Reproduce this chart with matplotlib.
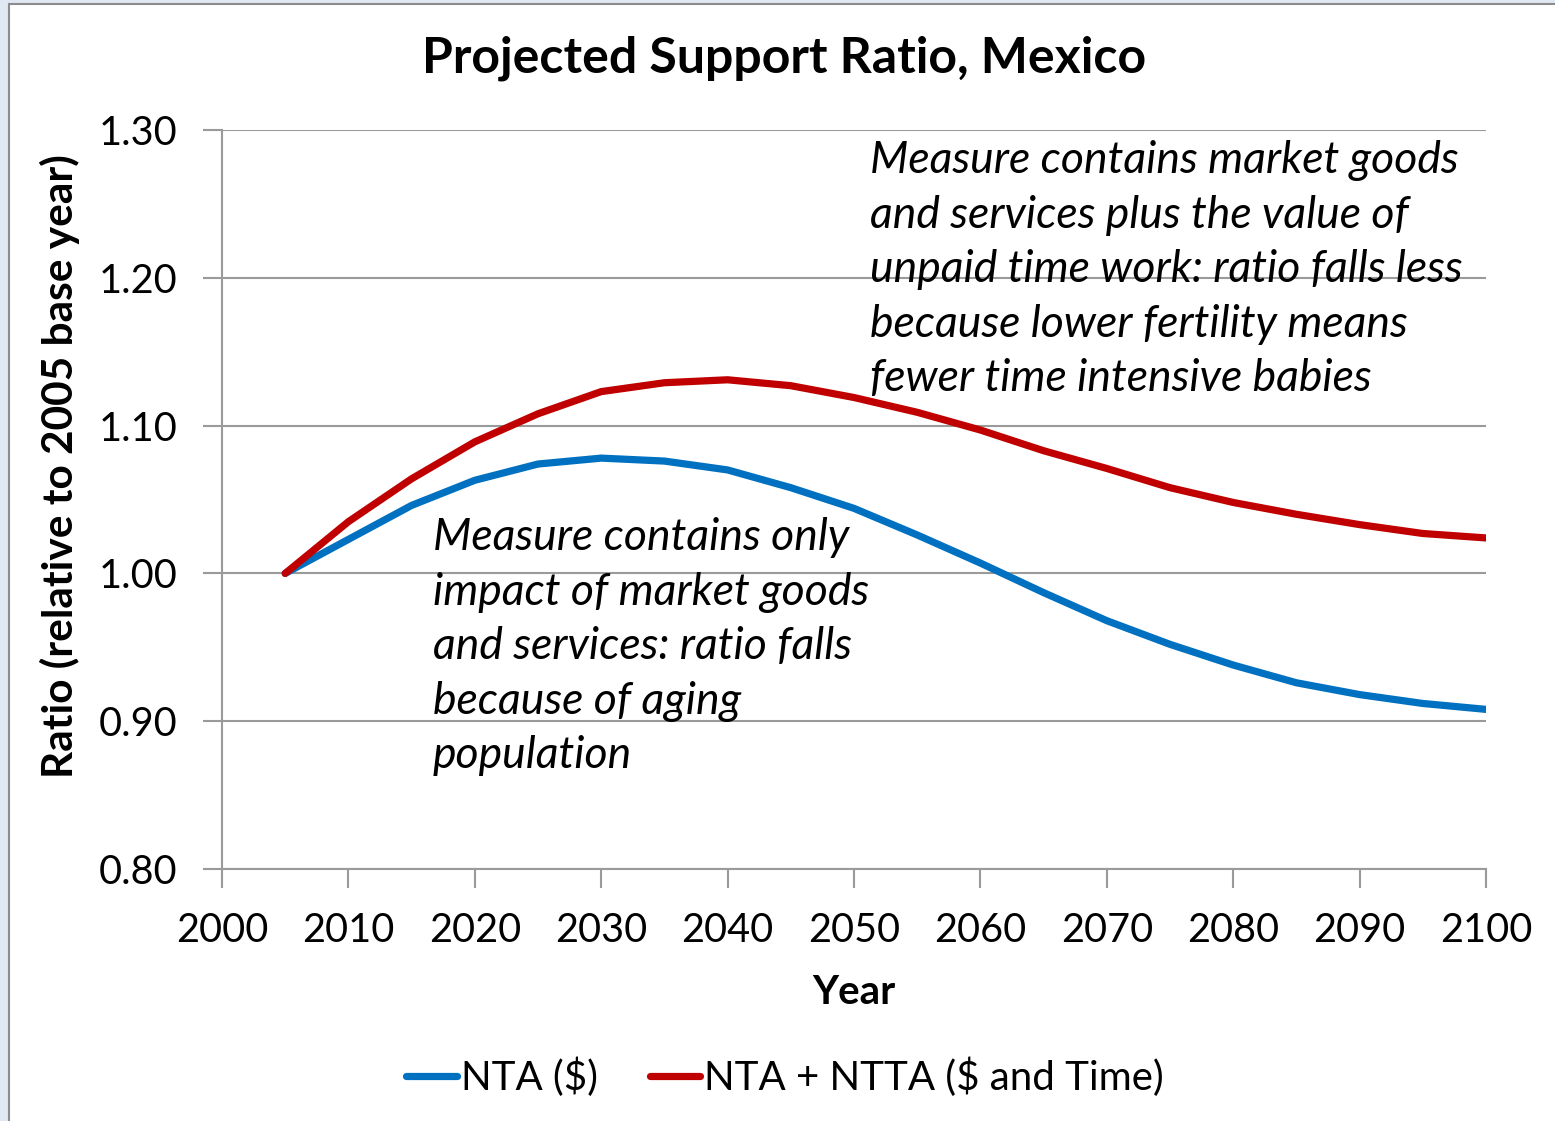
import matplotlib
matplotlib.use("Agg")
import matplotlib.pyplot as plt
from matplotlib.patches import Rectangle

years = [2005, 2010, 2015, 2020, 2025, 2030, 2035, 2040, 2045, 2050,
         2055, 2060, 2065, 2070, 2075, 2080, 2085, 2090, 2095, 2100]
nta = [1.000, 1.023, 1.046, 1.063, 1.074, 1.078, 1.076, 1.070, 1.058, 1.044,
       1.026, 1.007, 0.987, 0.968, 0.952, 0.938, 0.926, 0.918, 0.912, 0.908]
ntta = [1.000, 1.035, 1.064, 1.089, 1.108, 1.123, 1.129, 1.131, 1.127, 1.119,
        1.109, 1.097, 1.083, 1.071, 1.058, 1.048, 1.040, 1.033, 1.027, 1.024]
series_names = ["NTA ($)", "NTA + NTTA ($ and Time)"]
xticks = list(range(2000, 2101, 10))
yticks = [0.80, 0.90, 1.00, 1.10, 1.20, 1.30]

FONT = ["Lato", "DejaVu Sans"]
plt.rcParams["font.family"] = FONT

W, H = 1555, 1121
fig = plt.figure(figsize=(W / 100, H / 100), dpi=100)
fig.patch.set_facecolor("#dfe8f3")
frame = Rectangle((9 / W, -0.01), 1, 1.01 - 4 / H, transform=fig.transFigure,
                  facecolor="white", edgecolor="#8c8c8c", linewidth=1.5, zorder=-10)
fig.add_artist(frame)

ax = fig.add_axes([222 / W, 1 - 869 / H, (1486 - 222) / W, (869 - 130) / H])
ax.set_zorder(1)
ax.set_facecolor("none")
ax.plot(years, nta, color="#0070c0", linewidth=5.2, solid_capstyle="round",
        solid_joinstyle="round", label=series_names[0], zorder=3)
ax.plot(years, ntta, color="#c00000", linewidth=5.2, solid_capstyle="round",
        solid_joinstyle="round", label=series_names[1], zorder=3)

ax.set_xlim(2000, 2100)
ax.set_ylim(0.80, 1.30)
ax.set_xticks(xticks)
ax.set_yticks(yticks)
ax.set_yticklabels([f"{v:.2f}" for v in yticks])
ax.grid(axis="y", color="#9a9a9a", linewidth=1.5)
ax.set_axisbelow(True)
for s in ["top", "right"]:
    ax.spines[s].set_visible(False)
for s in ["left", "bottom"]:
    ax.spines[s].set_color("#9a9a9a")
    ax.spines[s].set_linewidth(1.5)
ax.tick_params(axis="both", direction="out", length=14, width=1.5, color="#9a9a9a",
               labelsize=28.5)
ax.tick_params(axis="x", pad=17)
ax.tick_params(axis="y", pad=18)

fig.text(0.504, 1 - 58 / H, "Projected Support Ratio, Mexico", fontsize=36,
         fontweight="bold", ha="center", va="center")
ax.set_xlabel("Year", fontsize=29, fontweight="bold")
ax.xaxis.set_label_coords(0.5, -0.142)
ax.set_ylabel("Ratio (relative to 2005 base year)", fontsize=30.5, fontweight="bold")
ax.yaxis.set_label_coords(-0.112, 0.545)

ax.text(2016.7, 1.038, "Measure contains only\nimpact of market goods\nand services: ratio falls\nbecause of aging\npopulation",
        fontsize=32, style="italic", va="top", ha="left", linespacing=1.41, zorder=4)
ax.text(2051.3, 1.293, "Measure contains market goods\nand services plus the value of\nunpaid time work: ratio falls less\nbecause lower fertility means\nfewer time intensive babies",
        fontsize=32, style="italic", va="top", ha="left", linespacing=1.41, zorder=4)

leg = fig.legend(loc="center", bbox_to_anchor=(0.505, 1 - 1077 / H), ncol=2, frameon=False,
                 fontsize=29, handlelength=1.25, handletextpad=0.1, columnspacing=1.3)
for ln in leg.get_lines():
    ln.set_linewidth(5.2)

fig.savefig("out.png", dpi=100)
